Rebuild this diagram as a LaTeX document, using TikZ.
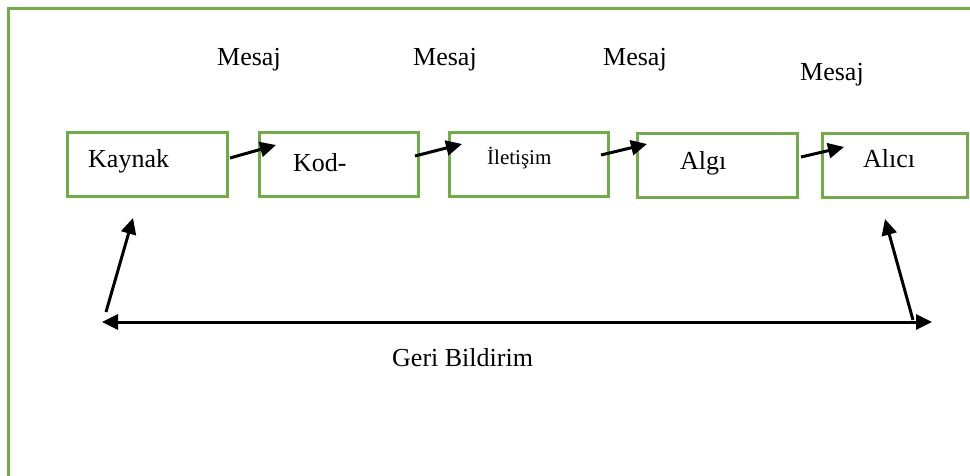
\documentclass[tikz,border=0pt]{standalone}
\usepackage{fontspec}
\setmainfont{Liberation Serif}
\usetikzlibrary{arrows.meta,calc}
\definecolor{frgreen}{HTML}{70AD47}
\tikzset{
  box/.style={draw=frgreen, line width=3pt, rectangle, inner sep=0pt},
  lbl/.style={anchor=base west, inner sep=0pt, font=\fontsize{26}{30}\selectfont},
  arr/.style={line width=3pt, -{Triangle[length=16pt,width=15pt]}},
  darr/.style={line width=3pt, {Triangle[length=16pt,width=15pt]}-{Triangle[length=16pt,width=15pt]}}
}
\begin{document}
\begin{tikzpicture}[x=1pt,y=-1pt]
\useasboundingbox (0,0) rectangle (970,475);
% frame
\draw[frgreen, line width=3pt] (972,8) -- (8,8) -- (8,477);
% boxes
\node[box, minimum width=160pt, minimum height=64pt] (kaynak) at (147,164.5) {};
\node[box, minimum width=159pt, minimum height=64pt] (kod) at (338.5,164.5) {};
\node[box, minimum width=159pt, minimum height=64pt] (iletisim) at (528.5,164.5) {};
\node[box, minimum width=160pt, minimum height=64pt] (algi) at (717,165) {};
\node[box, minimum width=145pt, minimum height=64pt] (alici) at (894.5,165) {};
% box texts
\node[lbl] (tkaynak) at (88,167) {Kaynak};
\node[lbl] (tkod) at (293,171) {Kod-};
\node[lbl, font=\fontsize{21}{25}\selectfont] (tilet) at (487,164) {İletişim};
\node[lbl] (talgi) at (680,169) {Algı};
\node[lbl] (talici) at (863,167) {Alıcı};
% Mesaj labels
\node[lbl] (m1) at (217,65) {Mesaj};
\node[lbl] (m2) at (413,65) {Mesaj};
\node[lbl] (m3) at (603,65) {Mesaj};
\node[lbl] (m4) at (800,80) {Mesaj};
% connectors between boxes
\coordinate (a1s) at (230,158); \coordinate (a1e) at (276,145);
\coordinate (a2s) at (415,156); \coordinate (a2e) at (462,144);
\coordinate (a3s) at (601,155); \coordinate (a3e) at (647,144);
\coordinate (a4s) at (801,157); \coordinate (a4e) at (844,147);
\draw[arr] (a1s) -- (a1e);
\draw[arr] (a2s) -- (a2e);
\draw[arr] (a3s) -- (a3e);
\draw[arr] (a4s) -- (a4e);
% feedback
\coordinate (fl) at (102,322);
\coordinate (fr) at (932,322);
\coordinate (ls) at (106,312); \coordinate (le) at (133,218);
\coordinate (rs) at (913,320); \coordinate (re) at (885,219);
\draw[darr] (fl) -- (fr);
\draw[arr] (ls) -- (le);
\draw[arr] (rs) -- (re);
\node[lbl] (geri) at (392,366) {Geri Bildirim};
\end{tikzpicture}
\end{document}
